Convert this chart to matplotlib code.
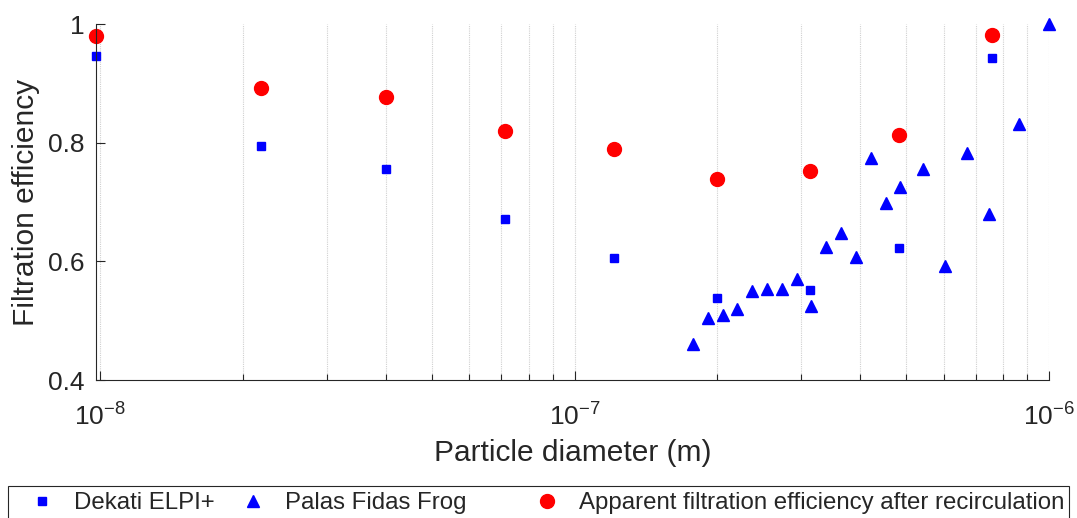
"""
Filtration efficiency vs particle diameter
"""
import matplotlib
matplotlib.use('Agg')
import matplotlib.pyplot as plt
from matplotlib.patches import Rectangle
from matplotlib.ticker import LogLocator, NullFormatter

plt.rcParams['font.family'] = ['Liberation Sans', 'DejaVu Sans']
plt.rcParams['mathtext.fontset'] = 'custom'
plt.rcParams['mathtext.rm'] = 'Liberation Sans'
plt.rcParams['axes.unicode_minus'] = False

TEXT_COLOR = '#262626'

# Dekati ELPI+
elpi_d = [9.8e-9, 2.18e-8, 4.0e-8, 7.15e-8, 1.21e-7, 2.0e-7, 3.13e-7, 4.82e-7, 7.6e-7]
elpi_eff = [0.946, 0.794, 0.756, 0.671, 0.606, 0.538, 0.551, 0.622, 0.943]

# Palas Fidas Frog
frog_d = [1.774e-7, 1.909e-7, 2.053e-7, 2.201e-7, 2.366e-7, 2.545e-7, 2.733e-7, 2.939e-7,
          3.155e-7, 3.388e-7, 3.645e-7, 3.913e-7, 4.215e-7, 4.526e-7, 4.859e-7, 5.417e-7,
          6.037e-7, 6.707e-7, 7.483e-7, 8.659e-7, 1.0e-6]
frog_eff = [0.460, 0.504, 0.510, 0.520, 0.550, 0.554, 0.554, 0.571,
            0.524, 0.624, 0.648, 0.607, 0.775, 0.698, 0.725, 0.755,
            0.592, 0.783, 0.679, 0.831, 1.0]

# apparent filtration efficiency after recirculation
recirc_d = elpi_d
recirc_eff = [0.980, 0.892, 0.877, 0.820, 0.789, 0.739, 0.752, 0.813, 0.981]

labels = ['Dekati ELPI+', 'Palas Fidas Frog', 'Apparent filtration efficiency after recirculation']

W, H = 1077, 518
fig = plt.figure(figsize=(W / 100, H / 100), dpi=100)
ax = fig.add_axes([96 / W, 1 - 380 / H, (1049 - 96) / W, (380 - 24) / H])

h1, = ax.plot(elpi_d, elpi_eff, 's', color='#0000ff', markersize=6, linestyle='none', clip_on=False)
h2, = ax.plot(frog_d, frog_eff, '^', color='#0000ff', markersize=8.5, linestyle='none', clip_on=False)
h3, = ax.plot(recirc_d, recirc_eff, 'o', color='#ff0000', markersize=10, linestyle='none', clip_on=False)

ax.set_xscale('log')
ax.set_xlim(9.8e-9, 1e-6)
ax.set_ylim(0.4, 1.0)
ax.set_yticks([0.4, 0.6, 0.8, 1.0])
ax.set_yticklabels(['0.4', '0.6', '0.8', '1'])
ax.set_xticks([1e-8, 1e-7, 1e-6])
ax.set_xticklabels([r'$\mathdefault{10^{-8}}$', r'$\mathdefault{10^{-7}}$', r'$\mathdefault{10^{-6}}$'])
ax.xaxis.set_minor_locator(LogLocator(base=10, subs=range(2, 10)))
ax.xaxis.set_minor_formatter(NullFormatter())

ax.grid(True, axis='x', which='both', color='#d0d0d0', linestyle=(0, (1, 1)), linewidth=0.8)
ax.set_axisbelow(True)

for side in ('top', 'right'):
    ax.spines[side].set_visible(False)
for side in ('left', 'bottom'):
    ax.spines[side].set_color(TEXT_COLOR)
    ax.spines[side].set_linewidth(0.8)

ax.tick_params(axis='both', which='major', direction='in', length=6.5, width=0.8,
               colors=TEXT_COLOR, labelsize=19)
ax.tick_params(axis='x', which='minor', direction='in', length=4, width=0.8, colors=TEXT_COLOR)
ax.tick_params(axis='y', pad=8)
ax.tick_params(axis='x', pad=17)

ax.set_xlabel('Particle diameter (m)', fontsize=21.5, color=TEXT_COLOR, labelpad=6)
ax.set_ylabel('Filtration efficiency', fontsize=21.5, color=TEXT_COLOR, labelpad=6)

# legend frame, one row, bottom cut off by the figure edge
fig.patches.append(Rectangle((8 / W, -0.1), (1069 - 8) / W, 0.1 + 1 - 486 / H,
                             transform=fig.transFigure, fill=False,
                             edgecolor=TEXT_COLOR, linewidth=0.8))
for h, lab, x0 in zip([h1, h2, h3], labels, [28, 239, 533]):
    fig.legend(handles=[h], labels=[lab], loc='center left',
               bbox_to_anchor=(x0 / W, 1 - 503 / H), frameon=False,
               borderpad=0, borderaxespad=0, handlelength=1.2, handletextpad=0.7,
               fontsize=17.3, labelcolor=TEXT_COLOR)

fig.savefig('out.png', dpi=100)
